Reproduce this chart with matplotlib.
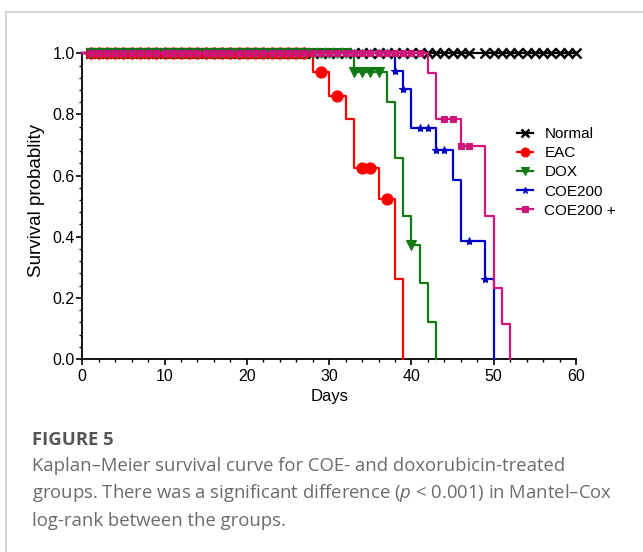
import numpy as np
import matplotlib
matplotlib.use("Agg")
import matplotlib.pyplot as plt
from matplotlib.lines import Line2D
from matplotlib.ticker import MultipleLocator, FormatStrFormatter

plt.rcParams['font.family'] = ['Liberation Sans', 'DejaVu Sans']
plt.rcParams['mathtext.fontset'] = 'custom'
plt.rcParams['mathtext.it'] = 'Open Sans:italic'
plt.rcParams['mathtext.rm'] = 'Open Sans'

# --- data (days, survival fraction) ---
groups = ["Normal", "EAC", "DOX", "COE200", "COE200 +"]

normal_times = []
normal_surv = []
normal_censor = list(range(1, 48)) + list(range(49, 61))

eac_times = [28, 30, 32, 33, 36, 38, 39]
eac_surv = [0.938, 0.861, 0.784, 0.626, 0.523, 0.262, 0.0]
eac_censor = list(range(1, 28)) + [29, 31, 34, 35, 37]

dox_times = [33, 37, 38, 39, 40, 41, 42, 43]
dox_surv = [0.938, 0.842, 0.657, 0.468, 0.373, 0.248, 0.122, 0.0]
dox_censor = list(range(1, 33)) + [33, 34, 35, 36, 40]

coe_times = [38, 39, 40, 43, 45, 46, 49, 50]
coe_surv = [0.942, 0.883, 0.757, 0.684, 0.586, 0.387, 0.261, 0.0]
coe_censor = list(range(1, 38)) + [38, 39, 41, 42, 43, 44, 47, 49]

coep_times = [42, 43, 46, 49, 50, 51, 52]
coep_surv = [0.937, 0.784, 0.698, 0.468, 0.233, 0.114, 0.0]
coep_censor = list(range(1, 42)) + [44, 45, 46, 47]

x_end = 60

colors = ["black", "#ff0000", "#137a13", "#0000c8", "#d0157a"]
markers = ["x", "o", "v", "*", "s"]
msizes = [6.5, 8, 7.5, 6, 5]

series = [
    (normal_times, normal_surv, normal_censor),
    (eac_times, eac_surv, eac_censor),
    (dox_times, dox_surv, dox_censor),
    (coe_times, coe_surv, coe_censor),
    (coep_times, coep_surv, coep_censor),
]


def step_value(times, surv, t):
    s = 1.0
    for ti, si in zip(times, surv):
        if t >= ti:
            s = si
    return s


W, H = 643, 552
fig = plt.figure(figsize=(W / 100, H / 100), dpi=100)

# card border (left and top)
fig.add_artist(Line2D([6 / W, 6 / W], [0, 1 - 12 / H], color="#cfcfcf", lw=1.2,
                      transform=fig.transFigure))
fig.add_artist(Line2D([6 / W, 1], [1 - 12 / H, 1 - 12 / H], color="#cfcfcf", lw=1.2,
                      transform=fig.transFigure))

ax = fig.add_axes([82.3 / W, 1 - 359 / H, 493.7 / W, 305.7 / H])

for i, (times, surv, cens) in enumerate(series):
    xs = [0] + list(times)
    ys = [1.0] + list(surv)
    if not times or surv[-1] > 0:
        xs.append(x_end)
        ys.append(ys[-1])
    ax.step(xs, ys, where="post", color=colors[i], lw=1.6, clip_on=False, zorder=2 + i)
    cy = [step_value(times, surv, c) for c in cens]
    mew = 1.8 if markers[i] == "x" else 0.8
    ax.plot(cens, cy, ls="none", marker=markers[i], ms=msizes[i], color=colors[i],
            mec=colors[i], mew=mew, clip_on=False, zorder=2 + i)

handles = [Line2D([], [], color=colors[i], lw=1.6, marker=markers[i], ms=msizes[i] * 0.8,
                  mew=1.8 if markers[i] == "x" else 0.8) for i in range(len(groups))]
ax.legend(handles, groups, loc="upper left", bbox_to_anchor=(517 / W, 1 - 127 / H),
          bbox_transform=fig.transFigure, frameon=False, fontsize=11,
          handlelength=1.05, handletextpad=0.75, labelspacing=0.34, borderpad=0,
          borderaxespad=0)

ax.set_xlim(0, 60)
ax.set_ylim(0, 1)
ax.xaxis.set_major_locator(MultipleLocator(10))
ax.xaxis.set_minor_locator(MultipleLocator(2))
ax.yaxis.set_major_locator(MultipleLocator(0.2))
ax.yaxis.set_minor_locator(MultipleLocator(0.04))
ax.yaxis.set_major_formatter(FormatStrFormatter("%.1f"))
ax.spines["top"].set_visible(False)
ax.spines["right"].set_visible(False)
for sp in ("left", "bottom"):
    ax.spines[sp].set_linewidth(1.3)
ax.tick_params(which="major", direction="out", length=4, width=1.2, labelsize=11.5, pad=1.5)
ax.tick_params(axis="x", which="major", pad=3.5)
ax.tick_params(which="minor", direction="out", length=2.5, width=1.0)
ax.set_xlabel("Days", fontsize=12, labelpad=3)

fig.text(37 / W, 1 - 200 / H, "Survival probablity", rotation=90, fontsize=13.5,
         ha="center", va="center")

# caption
cap_font = "Open Sans"
fig.text(32 / W, 1 - 445 / H, "FIGURE 5", fontsize=13.3, fontweight="bold",
         color="#555555", family=cap_font, va="baseline")
caption = [
    "Kaplan\u2013Meier survival curve for COE- and doxorubicin-treated",
    "groups. There was a significant difference ($\\it{p}$ < 0.001) in Mantel\u2013Cox",
    "log-rank between the groups.",
]
for k, line in enumerate(caption):
    fig.text(32 / W, 1 - (471 + 27.5 * k) / H, line, fontsize=13.3, color="#6b6b6b",
             family=cap_font, va="baseline")

fig.savefig("out.png", dpi=100)
